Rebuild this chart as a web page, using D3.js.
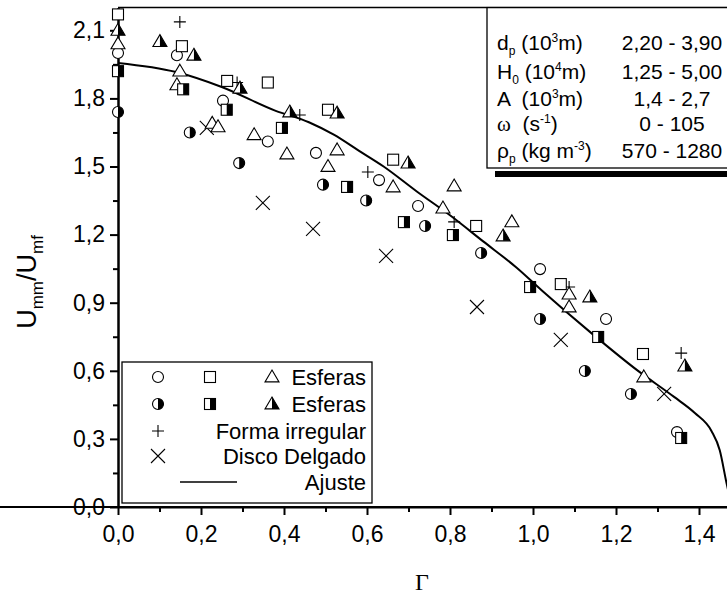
<!DOCTYPE html>
<html>
<head>
<meta charset="utf-8">
<script src="https://cdn.jsdelivr.net/npm/d3@7"></script>
<style>
body { margin: 0; background: #fff; }
text { font-family: "Liberation Sans", Arial, sans-serif; fill: #000; white-space: pre; }
</style>
</head>
<body>
<div id="chart"></div>
<script>
// Umm/Umf vs Gamma

var openCircle = [[0, 2.00], [0.142, 1.99], [0.253, 1.79], [0.361, 1.61], [0.477, 1.56], [0.629, 1.44],
	[0.723, 1.326], [1.017, 1.048], [1.176, 0.828], [1.347, 0.33]];
var openSquare = [[0, 2.17], [0.154, 2.03], [0.263, 1.877], [0.361, 1.87], [0.506, 1.75], [0.663, 1.53],
	[0.863, 1.238], [1.067, 0.982], [1.265, 0.674]];
var openTriangle = [[0, 2.04], [0.149, 1.92], [0.142, 1.86], [0.227, 1.69], [0.241, 1.675], [0.328, 1.64],
	[0.407, 1.555], [0.528, 1.573], [0.506, 1.50], [0.663, 1.41], [0.783, 1.317], [0.81, 1.414],
	[0.949, 1.256], [1.087, 0.938], [1.087, 0.881], [1.267, 0.573]];
var halfCircle = [[0, 1.74], [0.173, 1.65], [0.292, 1.515], [0.494, 1.42], [0.598, 1.35], [0.74, 1.238],
	[0.875, 1.119], [1.017, 0.828], [1.125, 0.599], [1.236, 0.498]];
var halfSquare = [[0, 1.92], [0.157, 1.84], [0.262, 1.75], [0.395, 1.67], [0.552, 1.41], [0.689, 1.255],
	[0.807, 1.198], [0.993, 0.969], [1.157, 0.749], [1.357, 0.304]];
var halfTriangle = [[0, 2.10], [0.101, 2.05], [0.183, 1.99], [0.294, 1.845], [0.414, 1.74], [0.528, 1.735],
	[0.699, 1.515], [0.928, 1.194], [1.137, 0.925], [1.366, 0.621]];
var irregular = [[0.149, 2.137], [0.287, 1.87], [0.438, 1.727], [0.602, 1.476], [0.81, 1.256],
	[1.087, 0.969], [1.357, 0.678]];
var disc = [[0.214, 1.67], [0.349, 1.34], [0.47, 1.225], [0.646, 1.106], [0.865, 0.881],
	[1.067, 0.736], [1.316, 0.498]];
var fitX = [0, 0.14, 0.25, 0.38, 0.46, 0.52, 0.58, 0.64, 0.72, 0.80, 0.88, 0.96, 1.02,
	1.14, 1.25, 1.34, 1.39, 1.43, 1.45, 1.467, 1.48];
var fitY = [1.956, 1.916, 1.85, 1.745, 1.695, 1.64, 1.57, 1.5, 1.39, 1.285, 1.17,
	1.055, 0.956, 0.767, 0.604, 0.485, 0.414, 0.335, 0.25, 0.1, 0.0];

var xTicks = [0, 0.2, 0.4, 0.6, 0.8, 1.0, 1.2, 1.4];
var xMinor = [0.1, 0.3, 0.5, 0.7, 0.9, 1.1, 1.3];
var yTicks = [0, 0.3, 0.6, 0.9, 1.2, 1.5, 1.8, 2.1];
var yMinor = [0.15, 0.45, 0.75, 1.05, 1.35, 1.65, 1.95];

var legendRows = ["Esferas", "Esferas", "Forma irregular", "Disco Delgado", "Ajuste"];
var infoLabels = [
	[["d", 0], ["p", -1], [" (10", 0], ["3", 1], ["m)", 0]],
	[["H", 0], ["0", -1], [" (10", 0], ["4", 1], ["m)", 0]],
	[["A  (10", 0], ["3", 1], ["m)", 0]],
	[["\u03c9", 0, "serif"], ["  (s", 0], ["-1", 1], [")", 0]],
	[["\u03c1", 0], ["p", -1], [" (kg m", 0], ["-3", 1], [")", 0]]
];
var infoValues = ["2,20 - 3,90", "1,25 - 5,00", "1,4 - 2,7", "0 - 105", "570 - 1280"];

var W = 727, H = 594;
var svg = d3.select('#chart').append('svg').attr('width', W).attr('height', H);

var x = d3.scaleLinear().domain([0, 1.5]).range([118, 740.5]);
var y = d3.scaleLinear().domain([0, 2.2]).range([507, 7.6]);
var fmt = function (d) { return d3.format('.1f')(d).replace('.', ','); };

// frame top
svg.append('line').attr('x1', 118).attr('x2', W).attr('y1', y(2.2)).attr('y2', y(2.2))
	.attr('stroke', '#000').attr('stroke-width', 1.5);

// axes
var gx = svg.append('g').attr('transform', 'translate(0,' + y(0) + ')')
	.call(d3.axisBottom(x).tickValues(xTicks).tickFormat(fmt).tickSize(8).tickSizeOuter(0));
svg.append('g').attr('transform', 'translate(0,' + y(0) + ')')
	.call(d3.axisBottom(x).tickValues(xMinor).tickFormat('').tickSize(5).tickSizeOuter(0));
var gy = svg.append('g').attr('transform', 'translate(' + x(0) + ',0)')
	.call(d3.axisLeft(y).tickValues(yTicks).tickFormat(fmt).tickSize(8).tickSizeOuter(0));
svg.append('g').attr('transform', 'translate(' + x(0) + ',0)')
	.call(d3.axisLeft(y).tickValues(yMinor).tickFormat('').tickSize(5).tickSizeOuter(0));
svg.selectAll('.domain').attr('stroke-width', 2);
svg.selectAll('.tick line').attr('stroke-width', 2);
gx.selectAll('text').attr('font-size', 23).attr('dy', '1.05em');
gy.selectAll('text').attr('font-size', 23).attr('x', -13);
gx.select('.domain').attr('d', 'M0,0H' + W);

// axis titles
svg.append('text').attr('x', 422).attr('y', 590).attr('text-anchor', 'middle')
	.style('font-family', '"Liberation Serif", "Times New Roman", serif').attr('font-size', 24).text('\u0393');
var yt = svg.append('text').attr('transform', 'translate(36,282) rotate(-90)')
	.attr('text-anchor', 'middle').attr('font-size', 27);
yt.append('tspan').text('U');
yt.append('tspan').attr('font-size', 17).attr('dy', 7).text('mm');
yt.append('tspan').attr('dy', -7).text('/U');
yt.append('tspan').attr('font-size', 17).attr('dy', 7).text('mf');

// fit curve
var fit = fitX.map(function (v, i) { return [v, fitY[i]]; });
svg.append('path').datum(fit)
	.attr('d', d3.line().x(function (d) { return x(d[0]); }).y(function (d) { return y(d[1]); }).curve(d3.curveMonotoneX))
	.attr('fill', 'none').attr('stroke', '#000').attr('stroke-width', 2);

// markers
var R = 5.5, S = 5.5, T = 7;
function shape(g, kind) {
	if (kind === 'circle' || kind === 'hcircle') {
		g.append('circle').attr('r', R).attr('fill', '#fff').attr('stroke', '#000').attr('stroke-width', 1.1);
		if (kind === 'hcircle') g.append('path').attr('d', 'M0,' + (-R) + 'A' + R + ',' + R + ' 0 0 1 0,' + R + 'Z');
	} else if (kind === 'square' || kind === 'hsquare') {
		g.append('rect').attr('x', -S).attr('y', -S).attr('width', 2 * S).attr('height', 2 * S)
			.attr('fill', '#fff').attr('stroke', '#000').attr('stroke-width', 1.1);
		if (kind === 'hsquare') g.append('rect').attr('x', 0).attr('y', -S).attr('width', S).attr('height', 2 * S);
	} else if (kind === 'tri' || kind === 'htri') {
		g.append('path').attr('d', 'M0,' + (-T) + 'L' + T + ',' + (T * 0.7) + 'L' + (-T) + ',' + (T * 0.7) + 'Z')
			.attr('fill', '#fff').attr('stroke', '#000').attr('stroke-width', 1.1);
		if (kind === 'htri') g.append('path').attr('d', 'M0,' + (-T) + 'L' + T + ',' + (T * 0.7) + 'L0,' + (T * 0.7) + 'Z');
	} else if (kind === 'plus') {
		g.append('path').attr('d', 'M-6,0H6M0,-6V6').attr('stroke', '#000').attr('stroke-width', 1.1);
	} else if (kind === 'cross') {
		g.append('path').attr('d', 'M-7,-7L7,7M-7,7L7,-7').attr('stroke', '#000').attr('stroke-width', 1.1);
	}
}
function series(data, kind) {
	svg.append('g').selectAll('g').data(data).enter().append('g')
		.attr('transform', function (d) { return 'translate(' + x(d[0]) + ',' + y(d[1]) + ')'; })
		.each(function () { shape(d3.select(this), kind); });
}
series(disc, 'cross');
series(irregular, 'plus');
series(openCircle, 'circle');
series(openTriangle, 'tri');
series(openSquare, 'square');
series(halfCircle, 'hcircle');
series(halfTriangle, 'htri');
series(halfSquare, 'hsquare');

// legend
var lg = svg.append('g');
lg.append('rect').attr('x', 122).attr('y', 362).attr('width', 250).attr('height', 141)
	.attr('fill', '#fff').attr('stroke', '#000').attr('stroke-width', 1.3);
var rowY = [377, 404, 431, 456, 482];
[['circle', 'square', 'tri'], ['hcircle', 'hsquare', 'htri'], ['plus'], ['cross']].forEach(function (ks, i) {
	ks.forEach(function (k, j) {
		shape(lg.append('g').attr('transform', 'translate(' + [158, 210, 272][j] + ',' + rowY[i] + ')'), k);
	});
});
lg.append('line').attr('x1', 180).attr('x2', 237).attr('y1', rowY[4]).attr('y2', rowY[4])
	.attr('stroke', '#000').attr('stroke-width', 1.5);
lg.selectAll('text.lt').data(legendRows).enter().append('text').attr('class', 'lt')
	.attr('x', 366).attr('y', function (d, i) { return rowY[i] + 8; })
	.attr('text-anchor', 'end').attr('font-size', 22).text(function (d) { return d; });

// info box
var ib = svg.append('g');
ib.append('rect').attr('x', 495).attr('y', 171).attr('width', 240).attr('height', 6).attr('fill', '#000');
ib.append('rect').attr('x', 487).attr('y', y(2.2)).attr('width', 250).attr('height', 168 - y(2.2))
	.attr('fill', '#fff').attr('stroke', '#000').attr('stroke-width', 1.3);
var infoY = [50, 79, 106, 131, 158];
infoLabels.forEach(function (parts, i) {
	var t = ib.append('text').attr('x', 497).attr('y', infoY[i]).attr('font-size', 21);
	var shift = 0;
	parts.forEach(function (p) {
		var sp = t.append('tspan').text(p[0]);
		var want = p[1] === -1 ? 5 : (p[1] === 1 ? -8 : 0);
		if (p[1] !== 0) sp.attr('font-size', 12);
		sp.attr('dy', want - shift);
		shift = want;
		if (p[2]) sp.style('font-family', '"Liberation Serif", serif');
	});
});
ib.selectAll('text.iv').data(infoValues).enter().append('text').attr('class', 'iv')
	.attr('x', 672).attr('y', function (d, i) { return infoY[i]; })
	.attr('text-anchor', 'middle').attr('font-size', 21).text(function (d) { return d; });
</script>
</body>
</html>
